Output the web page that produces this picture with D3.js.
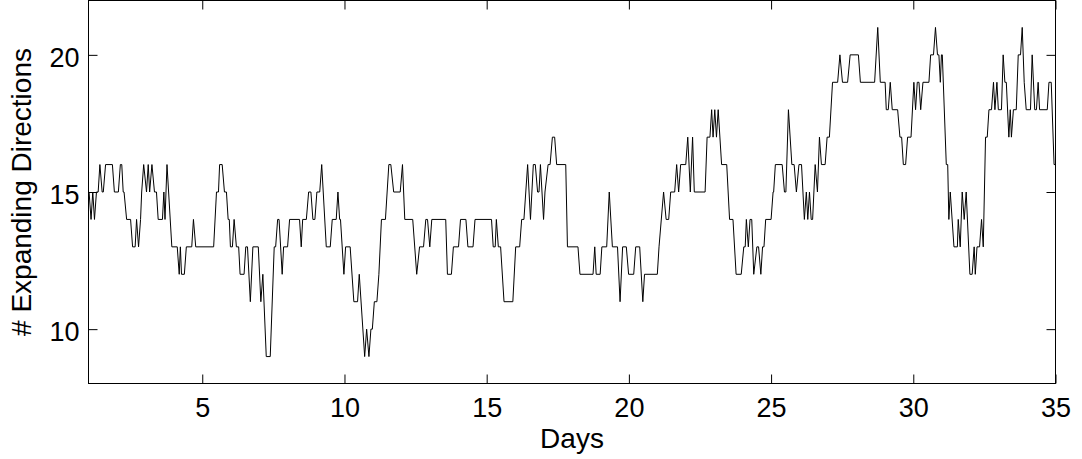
<!DOCTYPE html>
<html>
<head>
<meta charset="utf-8">
<script src="https://cdn.jsdelivr.net/npm/d3@7"></script>
<style>
  body { margin: 0; background: #fff; }
  svg { display: block; }
  .tick-label { font-family: "Liberation Sans", Arial, Helvetica, sans-serif; font-size: 27px; fill: #000; }
  .axis-title { font-family: "Liberation Sans", Arial, Helvetica, sans-serif; font-size: 28px; fill: #000; }
</style>
</head>
<body>
<div id="chart"></div>
<script>
// Vertices of the trace (day, number of expanding directions)
const days = [
  1.00, 1.02, 1.09, 1.15, 1.21, 1.28, 1.34, 1.40, 1.48, 1.52, 1.60, 1.84, 1.91, 2.05, 2.12, 2.17, 2.22, 2.25, 2.34, 2.48,
  2.55, 2.64, 2.69, 2.76, 2.83, 2.87, 2.94, 3.04, 3.10, 3.15, 3.23, 3.32, 3.39, 3.45, 3.60, 3.65, 3.69, 3.76, 3.93, 4.12,
  4.19, 4.23, 4.27, 4.37, 4.44, 4.63, 4.69, 4.77, 5.40, 5.50, 5.57, 5.61, 5.70, 5.78, 5.85, 5.91, 5.95, 5.99, 6.06, 6.12,
  6.20, 6.28, 6.33, 6.47, 6.53, 6.59, 6.69,
  6.78, 6.97, 7.06, 7.13, 7.25, 7.39, 7.53, 7.58, 7.65, 7.70, 7.81, 7.86, 8.00, 8.07, 8.42, 8.48, 8.53, 8.66, 8.74, 8.82,
  8.89, 8.96, 9.03, 9.13, 9.20, 9.36, 9.50, 9.57, 9.71, 9.77, 9.83, 9.86, 9.98, 10.04, 10.20, 10.33, 10.46, 10.52, 10.71, 10.78,
  10.86, 10.93, 10.98, 11.05, 11.14, 11.21, 11.30, 11.44, 11.56, 11.63, 11.73, 11.96, 12.04, 12.12, 12.40, 12.54,
  12.64, 12.78, 12.86, 12.92, 13.00, 13.07, 13.56, 13.62, 13.76, 13.83, 14.01, 14.08, 14.27, 14.34, 14.52, 14.59, 15.17, 15.23,
  15.30, 15.34, 15.41, 15.49, 15.61, 15.92, 16.02, 16.16, 16.23, 16.31, 16.44, 16.54, 16.64, 16.71, 16.79, 16.84, 16.89, 17.00,
  17.05, 17.16, 17.23, 17.31, 17.39, 17.46, 17.78, 17.84, 18.21, 18.28,
  18.74, 18.80, 18.85, 18.99, 19.05, 19.22, 19.31, 19.42, 19.60, 19.69, 19.78, 19.91, 19.99, 20.17, 20.24, 20.38, 20.49, 20.55,
  21.00, 21.06, 21.22, 21.31, 21.40, 21.47, 21.61, 21.68, 21.75, 21.82, 22.00, 22.07, 22.16, 22.24, 22.30, 22.68, 22.75, 22.85,
  22.91, 22.96, 23.02, 23.08, 23.14, 23.26, 23.44, 23.54, 23.66, 23.77, 23.95, 24.04,
  24.09, 24.13, 24.20, 24.26, 24.32, 24.39, 24.50, 24.56, 24.64, 24.70, 24.75, 24.81, 25.00, 25.07, 25.09, 25.15, 25.39, 25.47,
  25.52, 25.61, 25.73, 25.81, 25.89, 25.98, 26.07, 26.17, 26.24, 26.29, 26.35, 26.41, 26.46, 26.55, 26.63, 26.70, 26.77, 26.90,
  26.97, 27.05, 27.16, 27.34, 27.42, 27.51, 27.69, 27.78, 28.07, 28.14, 28.64, 28.75, 28.84, 29.01, 29.05, 29.12, 29.19, 29.26,
  29.45, 29.53, 29.59, 29.65, 29.73, 29.80,
  29.92, 30.02, 30.08, 30.14, 30.20, 30.26, 30.34, 30.55, 30.61, 30.71, 30.78, 30.85, 30.90, 30.95, 30.99, 31.02, 31.16, 31.21,
  31.25, 31.30, 31.43, 31.55, 31.58, 31.65, 31.72, 31.79, 31.86, 31.99, 32.07, 32.14, 32.18, 32.24, 32.33, 32.40, 32.46, 32.54,
  32.60, 32.66, 32.75, 32.82, 32.87, 32.94, 32.99, 33.10, 33.16, 33.22, 33.27, 33.36, 33.41, 33.45, 33.52, 33.62, 33.69, 33.77,
  33.83, 33.90, 33.97, 34.12, 34.18, 34.27, 34.33, 34.39, 34.44, 34.71, 34.77, 34.85, 34.95, 35.00
];
const directions = [
  15, 15, 14, 15, 14, 15, 15, 16, 15, 15, 16, 16, 15, 15, 16, 16, 15, 15, 14, 14,
  13, 13, 14, 13, 14, 15, 16, 15, 16, 15, 16, 15, 15, 14, 14, 15, 14, 16, 13, 13,
  12, 13, 12, 12, 13, 13, 14, 13, 13, 15, 15, 16, 16, 15, 15, 14, 14, 13, 13, 14,
  13, 13, 12, 12, 13, 13, 11,
  13, 13, 11, 12, 9, 9, 13, 13, 14, 14, 12, 13, 13, 14, 14, 13, 14, 14, 15, 15,
  14, 14, 15, 15, 16, 13, 13, 14, 14, 15, 14, 14, 12, 13, 13, 11, 11, 12, 9, 10,
  9, 10, 10, 11, 11, 12, 14, 14, 16, 16, 15, 15, 16, 14, 14, 12,
  13, 13, 14, 14, 13, 14, 14, 12, 12, 13, 13, 14, 14, 13, 13, 14, 14, 13,
  13, 14, 13, 13, 11, 11, 13, 13, 14, 14, 16, 14, 16, 16, 15, 15, 16, 14,
  15, 16, 16, 17, 17, 16, 16, 13, 13, 12,
  12, 13, 12, 12, 13, 13, 15, 13, 13, 11, 13, 13, 12, 12, 13, 13, 11, 12,
  12, 13, 15, 14, 14, 15, 15, 16, 15, 16, 16, 17, 15, 17, 15, 15, 17, 17,
  18, 17, 18, 17, 18, 16, 16, 14, 14, 12, 12, 13,
  13, 14, 13, 14, 14, 12, 13, 13, 12, 13, 13, 14, 14, 15, 15, 16, 16, 15,
  15, 18, 16, 16, 15, 16, 16, 14, 15, 14, 15, 14, 14, 16, 15, 17, 16, 16,
  17, 17, 19, 19, 20, 19, 19, 20, 20, 19, 19, 21, 19, 19, 18, 18, 19, 18,
  18, 17, 17, 16, 16, 17,
  17, 19, 18, 19, 19, 18, 19, 19, 20, 20, 21, 20, 20, 19, 20, 20, 16, 16,
  14, 15, 13, 13, 14, 13, 15, 14, 15, 12, 12, 13, 12, 13, 13, 14, 13, 17,
  17, 18, 18, 19, 18, 19, 18, 18, 20, 19, 19, 17, 18, 17, 18, 18, 20, 20,
  21, 19, 18, 18, 20, 18, 18, 19, 18, 18, 19, 19, 16, 16
];
const xDomain = [1, 35];
const yDomain = [8, 22];
const xTicks = [5, 10, 15, 20, 25, 30, 35];
const yTicks = [10, 15, 20];
const xLabel = "Days";
const yLabel = "# Expanding Directions";

const width = 1082, height = 459;
const plotLeft = 88.5, plotRight = 1055.5, plotTop = 0.5, plotBottom = 383.5;
const tickLen = 9;

const svg = d3.select("#chart").append("svg")
    .attr("width", width)
    .attr("height", height);

const x = d3.scaleLinear().domain(xDomain).range([plotLeft, plotRight]);
const y = d3.scaleLinear().domain(yDomain).range([plotBottom + 0.5, plotTop - 0.5]);

const series = days.map((d, i) => ({ day: d, value: directions[i] }));

// the trace
const line = d3.line()
    .x(d => x(d.day))
    .y(d => y(d.value));

svg.append("path")
    .datum(series)
    .attr("fill", "none")
    .attr("stroke", "#000")
    .attr("stroke-width", 1)
    .attr("stroke-linejoin", "miter")
    .attr("d", line);

// axes: ticks point inward on all four sides, box around
const bottomAxis = d3.axisBottom(x).tickValues(xTicks).tickSizeInner(-tickLen).tickSizeOuter(0).tickPadding(14);
const topAxis = d3.axisTop(x).tickValues(xTicks).tickSizeInner(-tickLen).tickSizeOuter(0).tickFormat("");
const leftAxis = d3.axisLeft(y).tickValues(yTicks).tickSizeInner(-tickLen).tickSizeOuter(0).tickPadding(9);
const rightAxis = d3.axisRight(y).tickValues(yTicks).tickSizeInner(-tickLen).tickSizeOuter(0).tickFormat("");

function styleAxis(g) {
    g.select(".domain").remove();
    g.attr("font-size", null).attr("font-family", null);
    g.selectAll(".tick line").attr("stroke", "#000").attr("stroke-width", 1);
    g.selectAll(".tick text").attr("class", "tick-label");
}

svg.append("g").attr("transform", `translate(0,${plotBottom})`).call(bottomAxis).call(styleAxis)
    .selectAll(".tick text").attr("dy", "0.72em");
svg.append("g").attr("transform", `translate(0,${plotTop})`).call(topAxis).call(styleAxis);
svg.append("g").attr("transform", `translate(${plotLeft},0)`).call(leftAxis).call(styleAxis)
    .selectAll(".tick text").attr("dy", "0.42em");
svg.append("g").attr("transform", `translate(${plotRight},0)`).call(rightAxis).call(styleAxis);

svg.append("rect")
    .attr("x", plotLeft)
    .attr("y", plotTop)
    .attr("width", plotRight - plotLeft)
    .attr("height", plotBottom - plotTop)
    .attr("fill", "none")
    .attr("stroke", "#000")
    .attr("stroke-width", 1);

// axis titles
svg.append("text")
    .attr("class", "axis-title")
    .attr("x", (plotLeft + plotRight) / 2)
    .attr("y", 448)
    .attr("text-anchor", "middle")
    .text(xLabel);

svg.append("text")
    .attr("class", "axis-title")
    .attr("transform", `translate(31,${(plotTop + plotBottom) / 2}) rotate(-90)`)
    .attr("text-anchor", "middle")
    .text(yLabel);
</script>
</body>
</html>
